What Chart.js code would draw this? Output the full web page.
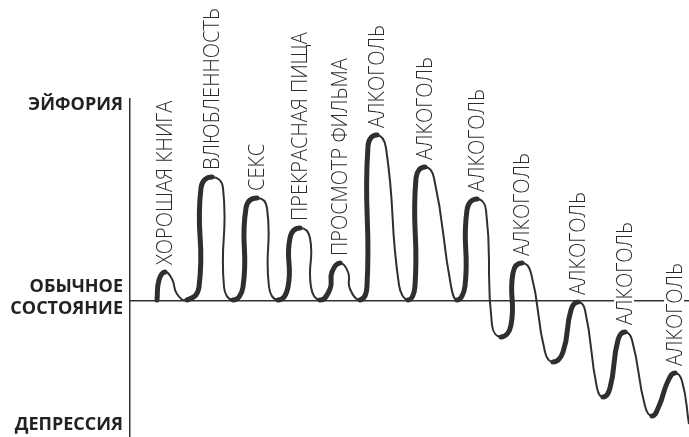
<!DOCTYPE html>
<html>
<head>
<meta charset="utf-8">
<script src="https://cdn.jsdelivr.net/npm/chart.js@4.4.0/dist/chart.umd.min.js"></script>
<style>
  body { margin: 0; background: #fff; }
  #wrap { width: 689px; height: 437px; }
</style>
</head>
<body>
<div id="wrap"><canvas id="moodChart" width="689" height="437"></canvas></div>
<script>
// wave, point by point (x: time, y: mood, 0 = normal)
// each bump: foot of upstroke, top of upstroke, peak, top of downstroke, foot of downstroke, trough
const waveX = [27,
  29, 35, 42, 47, 57,
  69, 71, 82, 93, 94, 103,
  113, 116, 127, 137, 139, 148,
  158, 160, 170, 180, 181, 190,
  200, 202, 210, 218, 220, 230,
  237, 238, 247, 256, 269, 278,
  285, 286, 295, 304, 321, 327,
  335, 337, 347, 356, 362, 371,
  381, 383, 392, 401, 415, 423,
  433, 441, 448, 455, 467, 473,
  480, 488, 495, 502, 515, 522,
  529, 538, 545, 552, 559];
const waveY = [1,
  21, 29, 22, 7, 1,
  14, 113, 124, 113, 14, 1,
  14, 93, 103, 93, 14, 1,
  14, 63, 73, 63, 14, 1,
  12, 29, 38, 29, 12, 1,
  15, 155, 166, 153, 16, 1,
  15, 123, 134, 123, 15, 1,
  15, 91, 102, 91, -24, -36,
  -24, 28, 38, 28, -51, -61,
  -51, -9, -1, -9, -87, -96,
  -87, -39, -31, -39, -105, -115,
  -105, -80, -72, -80, -123];
const peakLabels = ['ХОРОШАЯ КНИГА', 'ВЛЮБЛЕННОСТЬ', 'СЕКС', 'ПРЕКРАСНАЯ ПИЩА', 'ПРОСМОТР ФИЛЬМА',
  'АЛКОГОЛЬ', 'АЛКОГОЛЬ', 'АЛКОГОЛЬ', 'АЛКОГОЛЬ', 'АЛКОГОЛЬ', 'АЛКОГОЛЬ', 'АЛКОГОЛЬ'];

const yTickValues = [196, 3, -124];
const yTickLabels = ['ЭЙФОРИЯ', ['ОБЫЧНОЕ', 'СОСТОЯНИЕ'], 'ДЕПРЕССИЯ'];

const inkColor = '#2f2f2f';

const wave = waveX.map((x, i) => ({x: x, y: waveY[i]}));
// peaks = local maxima of the wave, in order
const peaks = wave.filter((p, i) => i > 0 && i < wave.length - 1 && p.y > waveY[i - 1] && p.y > waveY[i + 1]);

const peakLabelPlugin = {
  id: 'peakLabels',
  afterDatasetsDraw(chart) {
    const ctx = chart.ctx;
    const xs = chart.scales.x, ys = chart.scales.y;
    ctx.save();
    ctx.font = '300 22px "Open Sans"';
    const sx = 103 / ctx.measureText('АЛКОГОЛЬ').width;
    peakLabels.forEach((text, i) => {
      const px = xs.getPixelForValue(peaks[i].x);
      const py = ys.getPixelForValue(peaks[i].y);
      const w = ctx.measureText(text).width * sx;
      ctx.save();
      ctx.translate(px + 7, py - 7);
      ctx.rotate(-Math.PI / 2);
      ctx.fillStyle = '#fff';
      ctx.fillRect(-1, -18, w + 2, 20);
      ctx.scale(sx, 1);
      ctx.fillStyle = '#2a2a2a';
      ctx.textBaseline = 'alphabetic';
      ctx.fillText(text, 0, 0);
      ctx.restore();
    });
    ctx.restore();
  }
};

const ctx = document.getElementById('moodChart').getContext('2d');
new Chart(ctx, {
  type: 'line',
  data: {
    datasets: [{
      // thin stroke over the whole wave
      data: wave,
      borderColor: inkColor,
      borderWidth: 2,
      pointRadius: 0,
      tension: 0.5,
      clip: false
    }, {
      // thick upstrokes
      data: wave,
      borderColor: inkColor,
      borderWidth: 5,
      borderCapStyle: 'round',
      pointRadius: 0,
      tension: 0.5,
      clip: false,
      segment: {
        borderColor: c => c.p1.parsed.y > c.p0.parsed.y ? inkColor : 'transparent'
      }
    }]
  },
  options: {
    responsive: false,
    devicePixelRatio: 1,
    animation: false,
    layout: {padding: {top: 99, left: 0, right: 0, bottom: 0}},
    plugins: {legend: {display: false}, tooltip: {enabled: false}},
    scales: {
      x: {
        type: 'linear',
        min: 0,
        max: 559,
        position: {y: 0},
        grid: {display: false, drawTicks: false},
        ticks: {display: false},
        border: {display: true, color: '#333', width: 1.5}
      },
      y: {
        min: -136,
        max: 202,
        grid: {display: false, drawTicks: false, tickLength: 0},
        border: {display: true, color: '#333', width: 1.5},
        afterBuildTicks: s => { s.ticks = yTickValues.map(v => ({value: v})); },
        afterFit: s => { s.width = 130; s.paddingTop = 0; s.paddingBottom = 0; },
        ticks: {
          padding: 7,
          color: '#222',
          font: {family: '"Open Sans"', size: 18, weight: 'bold', lineHeight: 1.25},
          callback: v => yTickLabels[yTickValues.indexOf(v)]
        }
      }
    }
  },
  plugins: [peakLabelPlugin]
});
</script>
</body>
</html>
